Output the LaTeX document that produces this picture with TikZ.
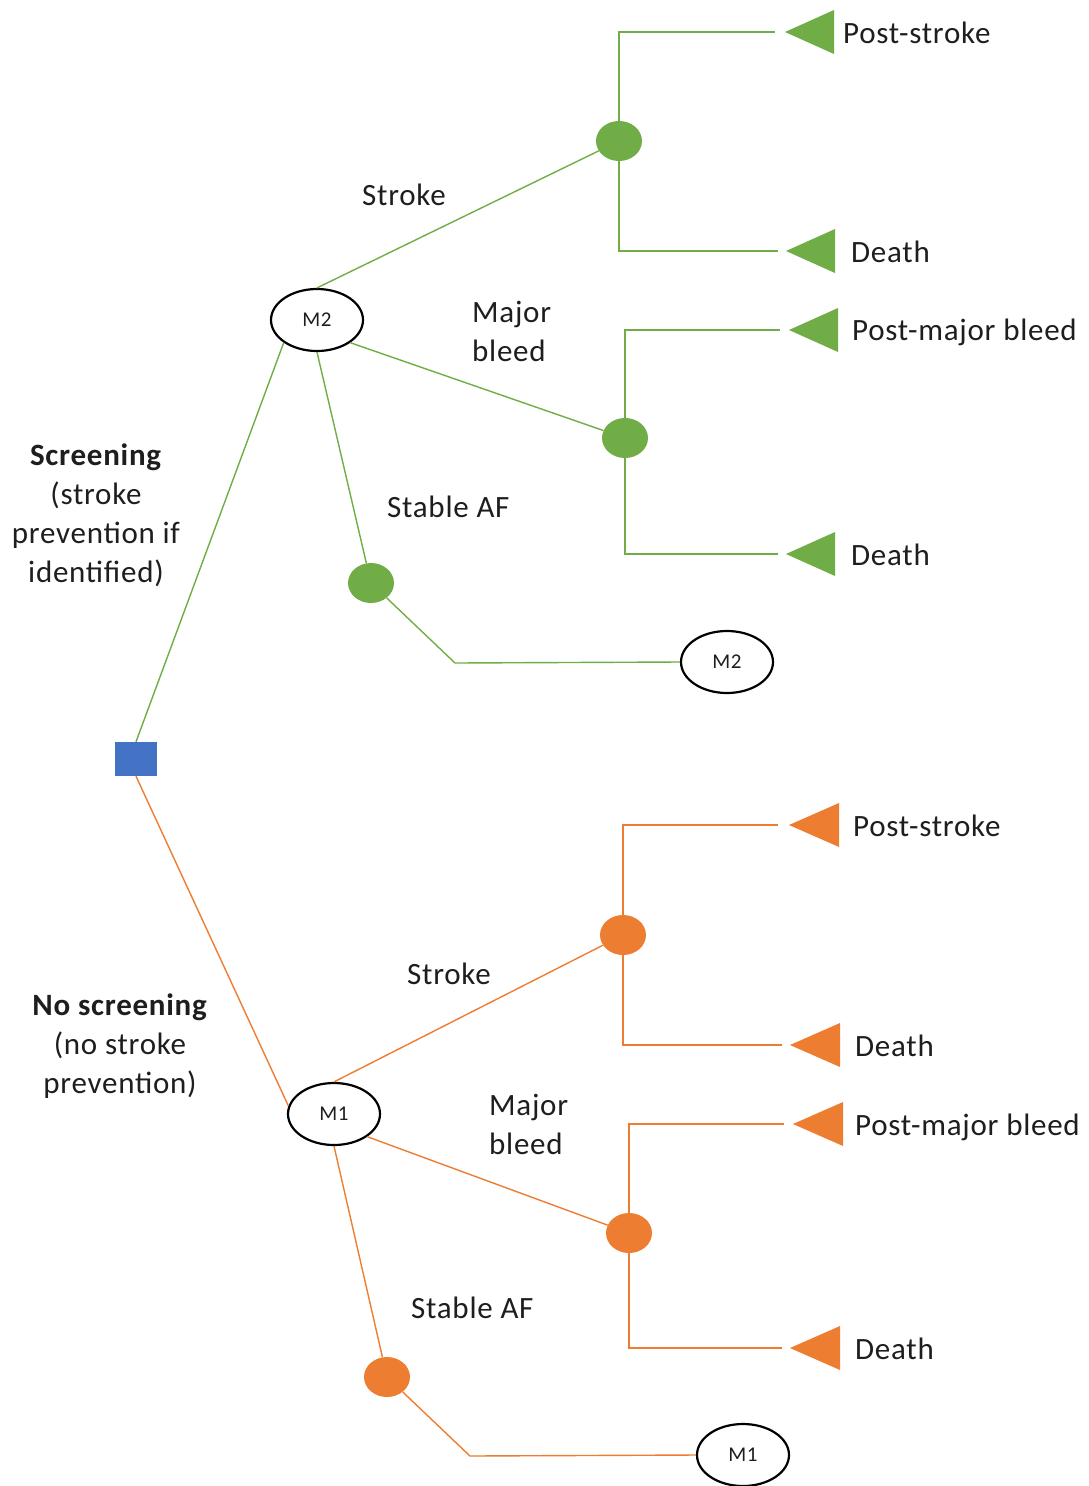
\documentclass[tikz,border=0pt]{standalone}
\usepackage{fontspec}
\setmainfont{Carlito}[LetterSpace=2.4]
\usetikzlibrary{shapes.geometric}
\definecolor{grn}{HTML}{70AD47}
\definecolor{org}{HTML}{ED7D31}
\definecolor{blu}{HTML}{4472C4}
\definecolor{ink}{HTML}{1E1E1E}
\begin{document}
\begin{tikzpicture}[x=1pt,y=-1pt,
  lbl/.style={font=\fontsize{31}{39}\selectfont, text=ink, inner sep=0pt},
  blocklbl/.style={lbl, align=center},
  markov/.style={ellipse, draw=black, line width=2.2pt, fill=white,
    minimum width=92pt, minimum height=62pt, inner sep=0pt,
    font=\fontsize{21}{21}\selectfont, text=ink},
  chance/.style={ellipse, minimum width=46pt, minimum height=40pt, inner sep=0pt},
  gchance/.style={chance, fill=grn},
  ochance/.style={chance, fill=org},
  gline/.style={draw=grn, line width=1.4pt},
  oline/.style={draw=org, line width=1.4pt},
  decision/.style={rectangle, fill=blu, minimum width=42pt, minimum height=34pt, inner sep=0pt}
]
\useasboundingbox (0,0) rectangle (1088,1486);

% ---------- decision and strategy labels ----------
\node[decision] (dec) at (136,759) {};
\node[blocklbl] (scr) at (96,515) {\textbf{Screening}\\(stroke\\prevention if\\identified)};
\node[blocklbl] (noscr) at (120,1046) {\textbf{No screening}\\(no stroke\\prevention)};

% ---------- screening arm (green) ----------
\node[markov] (m2a) at (317,320) {M2};
\node[gchance] (gc1) at (619,141) {};
\node[gchance] (gc2) at (625,438) {};
\node[gchance] (gc3) at (371,583) {};
\node[markov] (m2b) at (727,662) {M2};
\coordinate (gk) at (455,663);

\node[lbl, anchor=base] (gs) at (404,205) {Stroke};
\node[lbl, anchor=west, align=left] (gm) at (472,331) {Major\\bleed};
\node[lbl, anchor=base west] (ga) at (387,517) {Stable AF};

% terminal ends of the green branches
\coordinate (ge1) at (775,32);  \coordinate (gt1) at (785,32);
\coordinate (ge2) at (778,251); \coordinate (gt2) at (786,251);
\coordinate (ge3) at (780,330); \coordinate (gt3) at (789,330);
\coordinate (ge4) at (778,554); \coordinate (gt4) at (786,554);
\foreach \t in {gt1,gt2,gt3,gt4}
  \fill[grn] (\t) -- ++(49,-22) -- ++(0,44) -- cycle;
\node[lbl, anchor=base west] (gl1) at (843,43) {Post-stroke};
\node[lbl, anchor=base west] (gl2) at (851,262) {Death};
\node[lbl, anchor=base west] (gl3) at (852,340) {Post-major bleed};
\node[lbl, anchor=base west] (gl4) at (851,565) {Death};

\draw[gline] (dec.north) -- (m2a.south west);
\draw[gline] (m2a.north) -- (gc1);
\draw[gline] (m2a.south east) -- (gc2);
\draw[gline] (m2a.south) -- (gc3);
\draw[gline] (gc3) -- (gk) -- (m2b.west);
\draw[gline] (gc1) |- (ge1);
\draw[gline] (gc1) |- (ge2);
\draw[gline] (gc2) |- (ge3);
\draw[gline] (gc2) |- (ge4);

% ---------- no screening arm (orange) ----------
\node[markov] (m1a) at (334,1114) {M1};
\node[ochance] (oc1) at (623,935) {};
\node[ochance] (oc2) at (629,1233) {};
\node[ochance] (oc3) at (387,1377) {};
\node[markov] (m1b) at (743,1455) {M1};
\coordinate (ok) at (470,1456);

\node[lbl, anchor=base] (os) at (449,984) {Stroke};
\node[lbl, anchor=west, align=left] (om) at (489,1124) {Major\\bleed};
\node[lbl, anchor=base west] (oa) at (411,1318) {Stable AF};

% terminal ends of the orange branches
\coordinate (oe1) at (778,825);  \coordinate (ot1) at (789,825);
\coordinate (oe2) at (782,1045); \coordinate (ot2) at (790,1045);
\coordinate (oe3) at (784,1124); \coordinate (ot3) at (793,1124);
\coordinate (oe4) at (782,1348); \coordinate (ot4) at (790,1348);
\foreach \t in {ot1,ot2,ot3,ot4}
  \fill[org] (\t) -- ++(50,-22) -- ++(0,44) -- cycle;
\node[lbl, anchor=base west] (ol1) at (853,836) {Post-stroke};
\node[lbl, anchor=base west] (ol2) at (855,1056) {Death};
\node[lbl, anchor=base west] (ol3) at (855,1135) {Post-major bleed};
\node[lbl, anchor=base west] (ol4) at (855,1359) {Death};

\draw[oline] (dec.south) -- (m1a.170);
\draw[oline] (m1a.north) -- (oc1);
\draw[oline] (m1a.south east) -- (oc2);
\draw[oline] (m1a.south) -- (oc3);
\draw[oline] (oc3) -- (ok) -- (m1b.west);
\draw[oline] (oc1) |- (oe1);
\draw[oline] (oc1) |- (oe2);
\draw[oline] (oc2) |- (oe3);
\draw[oline] (oc2) |- (oe4);
\end{tikzpicture}
\end{document}
